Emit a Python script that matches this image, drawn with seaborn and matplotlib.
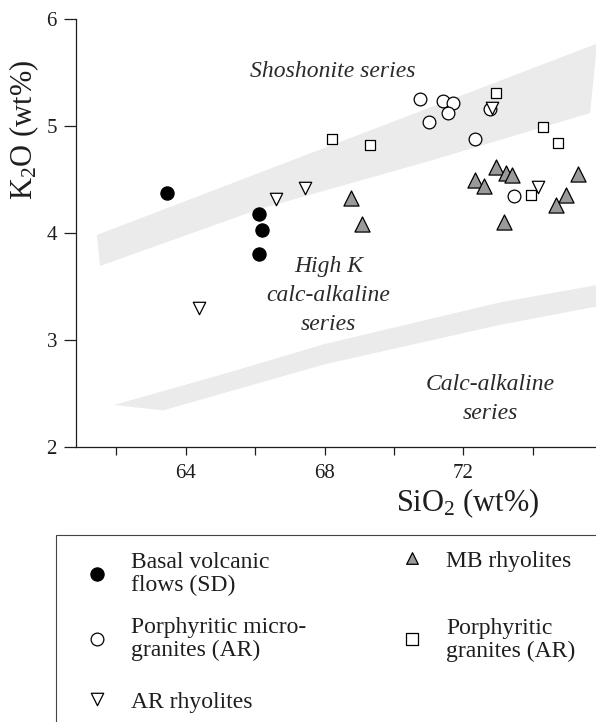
import numpy as np
import pandas as pd
import matplotlib
matplotlib.use("Agg")
import matplotlib.pyplot as plt
import seaborn as sns
from matplotlib.patches import Rectangle

# ---------------- data (SiO2 wt%, K2O wt%) ----------------
basal_sio2 = [63.47, 66.10, 66.21, 66.11]
basal_k2o = [4.37, 4.18, 4.03, 3.80]

micro_sio2 = [70.75, 71.00, 71.42, 71.71, 71.57, 72.34, 72.76, 73.47]
micro_k2o = [5.25, 5.04, 5.23, 5.21, 5.12, 4.88, 5.16, 4.34]

arrhy_sio2 = [64.38, 66.59, 67.44, 72.83, 74.16]
arrhy_k2o = [3.30, 4.32, 4.42, 5.17, 4.43]

mbrhy_sio2 = [68.76, 69.08, 72.93, 73.24, 73.40, 72.34, 72.59, 73.17, 75.30, 74.95, 74.66]
mbrhy_k2o = [4.33, 4.08, 4.62, 4.56, 4.54, 4.49, 4.44, 4.10, 4.55, 4.35, 4.26]

gran_sio2 = [68.21, 69.31, 72.94, 74.29, 74.73, 73.94]
gran_k2o = [4.88, 4.82, 5.31, 4.99, 4.84, 4.35]

# series boundary bands (polygon outlines)
upper_band_x = [61.44, 75.85, 75.65, 71.0, 66.1, 61.53]
upper_band_y = [3.98, 5.77, 5.12, 4.67, 4.22, 3.69]
lower_band_x = [61.93, 65.2, 68.0, 73.06, 75.82, 75.82, 73.06, 68.0, 63.35]
lower_band_y = [2.39, 2.69, 2.96, 3.35, 3.51, 3.31, 3.14, 2.77, 2.34]

x_ticks = [62, 64, 66, 68, 70, 72, 74]
x_tick_labels = ["", "64", "", "68", "", "72", ""]
y_ticks = [2, 3, 4, 5, 6]

labels = ["Basal volcanic\nflows (SD)", "Porphyritic micro-\ngranites (AR)",
          "AR rhyolites", "MB rhyolites", "Porphyritic\ngranites (AR)"]

# ---------------- style ----------------
sns.set_theme(style="white")
plt.rcParams["font.family"] = ["Liberation Serif", "DejaVu Serif"]
plt.rcParams["mathtext.fontset"] = "custom"
plt.rcParams["mathtext.rm"] = "Liberation Serif"
plt.rcParams["mathtext.it"] = "Liberation Serif:italic"
ink = "#1e1e1e"

W, H = 596, 722
fig = plt.figure(figsize=(W / 100, H / 100), dpi=100)
fig.patch.set_facecolor("white")
ax_l, ax_r, ax_t, ax_b = 75.7, 596, 19, 446.7
ax = fig.add_axes([ax_l / W, (H - ax_b) / H, (ax_r - ax_l) / W, (ax_b - ax_t) / H])

band_col = "#ebebeb"
ax.fill(upper_band_x, upper_band_y, color=band_col, lw=0, zorder=1)
ax.fill(lower_band_x, lower_band_y, color=band_col, lw=0, zorder=1)

groups = [
    (labels[0], basal_sio2, basal_k2o, "o", "black", 90),
    (labels[1], micro_sio2, micro_k2o, "o", "white", 84),
    (labels[2], arrhy_sio2, arrhy_k2o, "v", "white", 80),
    (labels[3], mbrhy_sio2, mbrhy_k2o, "^", "#9a9a9a", 118),
    (labels[4], gran_sio2, gran_k2o, "s", "white", 60),
]
handles = {}
for lab, xs, ys, mk, fc, s in groups:
    df = pd.DataFrame({"SiO2": xs, "K2O": ys})
    sns.scatterplot(data=df, x="SiO2", y="K2O", marker=mk, color=fc,
                    edgecolor="black", linewidth=0.9, s=s, ax=ax,
                    label=lab, zorder=3, legend=False)
h, l = ax.get_legend_handles_labels()
for hh, ll in zip(h, l):
    handles[ll] = hh
if ax.get_legend() is not None:
    ax.get_legend().remove()

ax.set_xlim(60.83, 75.82)
ax.set_ylim(2, 6)
ax.set_xticks(x_ticks)
ax.set_xticklabels(x_tick_labels)
ax.set_yticks(y_ticks)
ax.set_yticklabels([str(v) for v in y_ticks])

for side in ["top", "right"]:
    ax.spines[side].set_visible(False)
for side in ["left", "bottom"]:
    ax.spines[side].set_linewidth(0.9)
    ax.spines[side].set_color(ink)
ax.tick_params(axis="x", direction="out", length=5.8, width=0.9, color=ink,
               pad=6.5, labelsize=15, labelcolor=ink, bottom=True)
ax.tick_params(axis="y", direction="out", length=9, width=0.9, color=ink,
               pad=4.5, labelsize=15, labelcolor=ink, left=True)
ax.grid(False)

ax.set_xlabel(r"SiO$_\mathrm{2}$ (wt%)", fontsize=22, color=ink)
ax.set_ylabel(r"K$_\mathrm{2}$O (wt%)", fontsize=22, color=ink)
ax.xaxis.label.set_verticalalignment("center")
ax.yaxis.label.set_verticalalignment("center")
ax.xaxis.set_label_coords(0.754, -0.131)
ax.yaxis.set_label_coords(-0.098, 0.74)

ann = dict(fontsize=17, style="italic", color="#2a2a2a", ha="center",
           va="center", multialignment="center", linespacing=1.5, zorder=4)
ax.text(68.23, 5.51, "Shoshonite series", **ann)
ax.text(68.11, 3.41, "High K\ncalc-alkaline\nseries", **ann)
ax.text(72.77, 2.445, "Calc-alkaline\nseries", **ann)

# ---------------- legend ----------------
fig.add_artist(Rectangle((56 / W, -0.1), 1.2, (H - 535) / H + 0.1,
                         transform=fig.transFigure, fill=False,
                         edgecolor="#444444", lw=0.8))
fs = 17
hl = 1.0
common = dict(frameon=False, borderpad=0, borderaxespad=0, handlelength=hl,
              handletextpad=0.95, fontsize=fs, scatterpoints=1,
              scatteryoffsets=[0.5], loc="upper left")
fs_px = fs / 0.72
x1 = 97 - hl * fs_px / 2
x2 = 412 - hl * fs_px / 2
leg1 = fig.legend([handles[labels[0]], handles[labels[1]]], labels[0:2],
                  bbox_to_anchor=(x1 / W, (H - 552) / H), labelspacing=0.9,
                  **common)
leg2 = fig.legend([handles[labels[2]]], [labels[2]],
                  bbox_to_anchor=(x1 / W, (H - 691) / H), **common)
leg3 = fig.legend([handles[labels[3]], handles[labels[4]]], labels[3:5],
                  bbox_to_anchor=(x2 / W, (H - 550) / H), labelspacing=1.95,
                  **common)
for lg in (leg1, leg2, leg3):
    for t in lg.get_texts():
        t.set_linespacing(1.12)
        t.set_color(ink)
leg3.legend_handles[0].set_sizes([70])
leg3.legend_handles[1].set_sizes([70])

fig.savefig("out.png", dpi=100)
